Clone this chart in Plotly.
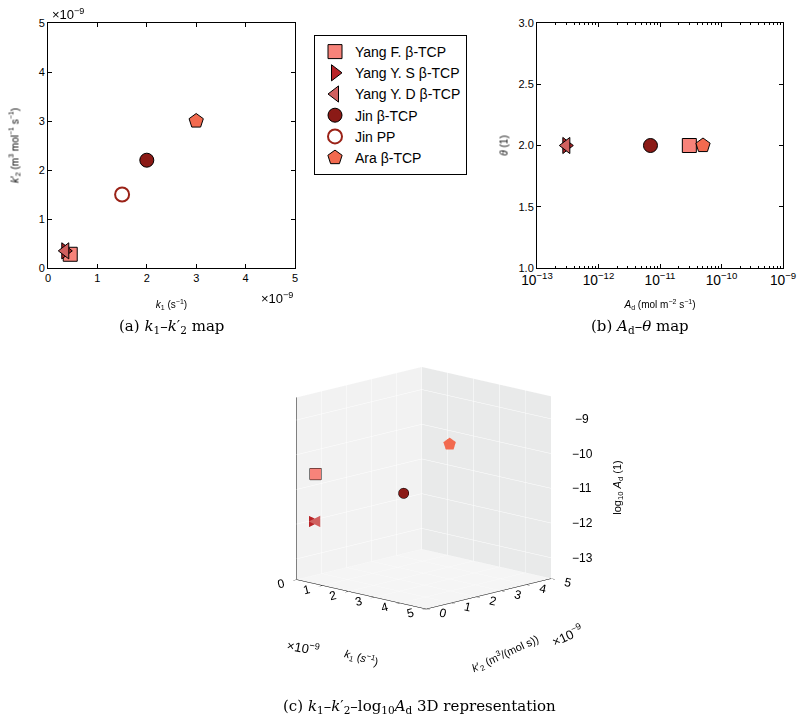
import plotly.graph_objects as go
import numpy as np

# ---- data ----
names = ["Yang F. β-TCP", "Yang Y. S β-TCP", "Yang Y. D β-TCP", "Jin β-TCP", "Jin PP", "Ara β-TCP"]
k1_e9 = [0.45, 0.35, 0.35, 2.0, 1.5, 3.0]        # k1 in 1e-9 s^-1
k2_e9 = [0.28, 0.35, 0.35, 2.2, 1.5, 3.0]        # k2' in 1e-9 m3 mol-1 s-1
A_d = [3e-11, 3e-13, 3e-13, 7e-12, None, 5e-11]  # mol m-2 s-1
theta = [2.0, 2.0, 2.0, 2.0, None, 2.0]
log10_Ad = [np.log10(a) if a is not None else None for a in A_d]
z_ticks = [-9, -10, -11, -12, -13]
z_range = [-13.6, -8.35]

symbols = ["square", "triangle-right", "triangle-left", "circle", "circle", "pentagon"]
glyph3d = {"triangle-right": "▶", "triangle-left": "◀", "pentagon": "⬟"}
fills = ["#F7837A", "#B82428", "#D0605F", "#8B1A16", "white", "#F26A4F"]
edges = ["black", "black", "black", "black", "#9A2217", "black"]
edge_w = [1, 1, 1, 1, 2, 1]
sizes = [14, 14, 14, 14, 14, 15]

fig = go.Figure()
for i, n in enumerate(names):
    mk = dict(symbol=symbols[i], color=fills[i], size=sizes[i],
              line=dict(color=edges[i], width=edge_w[i]))
    fig.add_trace(go.Scatter(x=[k1_e9[i]], y=[k2_e9[i]], mode="markers", name=n,
                             marker=mk, legendgroup=n, xaxis="x", yaxis="y"))
    if A_d[i] is not None:
        fig.add_trace(go.Scatter(x=[A_d[i]], y=[theta[i]], mode="markers", name=n,
                                 marker=mk, legendgroup=n, showlegend=False,
                                 xaxis="x2", yaxis="y2"))
        if symbols[i] in glyph3d:
            fig.add_trace(go.Scatter3d(x=[k1_e9[i]], y=[k2_e9[i]], z=[log10_Ad[i]], mode="text",
                                       text=[glyph3d[symbols[i]]], name=n, legendgroup=n,
                                       showlegend=False, scene="scene",
                                       textfont=dict(color=fills[i], size=15, family="DejaVu Sans")))
        else:
            fig.add_trace(go.Scatter3d(x=[k1_e9[i]], y=[k2_e9[i]], z=[log10_Ad[i]], mode="markers",
                                       name=n, legendgroup=n, showlegend=False, scene="scene",
                                       marker=dict(symbol=symbols[i], color=fills[i], size=6,
                                                   line=dict(color="black", width=1))))

tickfont = dict(family="Liberation Sans, Arial", size=11, color="black")
common = dict(showline=True, linecolor="black", linewidth=1, mirror="ticks",
              ticks="inside", ticklen=4, tickcolor="black", showgrid=False,
              zeroline=False, tickfont=tickfont, automargin=False)
tfont = dict(size=10, family="Liberation Sans, Arial", color="black")

def ax3d(rng, bg, **kw):
    d = dict(title=dict(text=""), range=rng, dtick=1,
             showbackground=True, backgroundcolor=bg, gridcolor="white",
             tickfont=dict(size=12, color="black"), ticks="outside", tickcolor="black",
             showline=True, linecolor="black", zeroline=False, showspikes=False)
    d.update(kw)
    return d

ann_font = dict(size=11, color="black", family="Liberation Sans, Arial")
scene_ann = [dict(x=5, y=5, z=z, text=f"−{abs(z)}", showarrow=False, xshift=31,
                  font=dict(size=12, color="black")) for z in z_ticks]
scene_ann.append(dict(x=5, y=5, z=np.mean(z_range), text="log<sub>10</sub> <i>A</i><sub>d</sub> (1)",
                      showarrow=False, xshift=67, textangle=-90, font=ann_font))
scene_ann.append(dict(x=2.5, y=0, z=z_range[0], text="<i>k</i><sub>1</sub> (<i>s</i><sup>−1</sup>)",
                      showarrow=False, xshift=0, yshift=-64, textangle=15, font=ann_font))
scene_ann.append(dict(x=5, y=2.5, z=z_range[0], text="<i>k</i>′<sub>2</sub> (m<sup>3</sup>/(mol s))",
                      showarrow=False, xshift=16, yshift=-60, textangle=-25, font=ann_font))

fig.update_layout(
    template="none",
    width=798, height=719, margin=dict(l=0, r=0, t=0, b=0, autoexpand=False),
    paper_bgcolor="white", plot_bgcolor="white",
    font=dict(family="Liberation Sans, Arial", color="black"),
    xaxis=dict(domain=[48/798, 295/798], range=[0, 5], dtick=1, anchor="y",
               title=dict(text="<i>k</i><sub>1</sub> (s<sup>−1</sup>)", font=tfont), **common),
    yaxis=dict(domain=[1-268/719, 1-23/719], range=[0, 5], dtick=1, anchor="x",
               title=dict(text="<i>k</i>′<sub>2</sub> (m<sup>3</sup> mol<sup>−1</sup> s<sup>−1</sup>)", font=tfont),
               **common),
    xaxis2=dict(domain=[537/798, 783/798], type="log", range=[-13, -9], dtick=1,
                exponentformat="power", showexponent="all", anchor="y2",
                minor=dict(ticks="inside", ticklen=2, dtick="D1", tickcolor="black"),
                title=dict(text="<i>A</i><sub>d</sub> (mol m<sup>−2</sup> s<sup>−1</sup>)", font=tfont),
                **common),
    yaxis2=dict(domain=[1-268/719, 1-23/719], range=[1, 3], dtick=0.5, tickformat=".1f", anchor="x2",
                title=dict(text="<i>θ</i> (1)", font=tfont), **common),
    legend=dict(x=314/798, y=1-35/719, xanchor="left", yanchor="top",
                bordercolor="black", borderwidth=1, bgcolor="white",
                font=dict(family="Liberation Sans, Arial", size=14, color="black"),
                tracegroupgap=0),
    scene=dict(
        domain=dict(x=[274/798, 574/798], y=[1-638/719, 1-338/719]),
        xaxis=ax3d([0, 5], "#F2F2F2"),
        yaxis=ax3d([0, 5], "#E9EAEA"),
        zaxis=ax3d(z_range, "#F5F5F5", showticklabels=False, ticks=""),
        aspectmode="manual", aspectratio=dict(x=1.2, y=1.2, z=1.25),
        camera=dict(eye=dict(x=1.12, y=-1.16, z=0.39), projection=dict(type="orthographic")),
        annotations=scene_ann,
    ),
)

cap_font = dict(family="DejaVu Serif, Liberation Serif", size=15, color="black")
fig.add_annotation(x=171/798, y=1-326/719, xref="paper", yref="paper", showarrow=False, xanchor="center",
                   yanchor="middle", text="(a) <i>k</i><sub>1</sub>–<i>k</i>′<sub>2</sub> map", font=cap_font)
fig.add_annotation(x=640/798, y=1-326/719, xref="paper", yref="paper", showarrow=False, xanchor="center",
                   yanchor="middle", text="(b) <i>A</i><sub>d</sub>–<i>θ</i> map", font=cap_font)
fig.add_annotation(x=419/798, y=1-706/719, xref="paper", yref="paper", showarrow=False, xanchor="center",
                   yanchor="middle",
                   text="(c) <i>k</i><sub>1</sub>–<i>k</i>′<sub>2</sub>–log<sub>10</sub><i>A</i><sub>d</sub> 3D representation", font=cap_font)
off_font = dict(family="Liberation Sans, Arial", size=13, color="black")
fig.add_annotation(x=50/798, y=1-14/719, xref="paper", yref="paper", showarrow=False,
                   text="×10<sup>−9</sup>", font=off_font, xanchor="left", yanchor="middle")
fig.add_annotation(x=295/798, y=1-298/719, xref="paper", yref="paper", showarrow=False,
                   text="×10<sup>−9</sup>", font=off_font, xanchor="right", yanchor="middle")
fig.add_annotation(x=303/798, y=1-647/719, xref="paper", yref="paper", showarrow=False, xanchor="center",
                   yanchor="middle", text="×10<sup>−9</sup>", font=off_font, textangle=10)
fig.add_annotation(x=567/798, y=1-635/719, xref="paper", yref="paper", showarrow=False, xanchor="center",
                   yanchor="middle", text="×10<sup>−9</sup>", font=off_font, textangle=-25)

fig.write_html("out.html", post_script="document.body.style.margin='0';",
               config={"displayModeBar": False})
